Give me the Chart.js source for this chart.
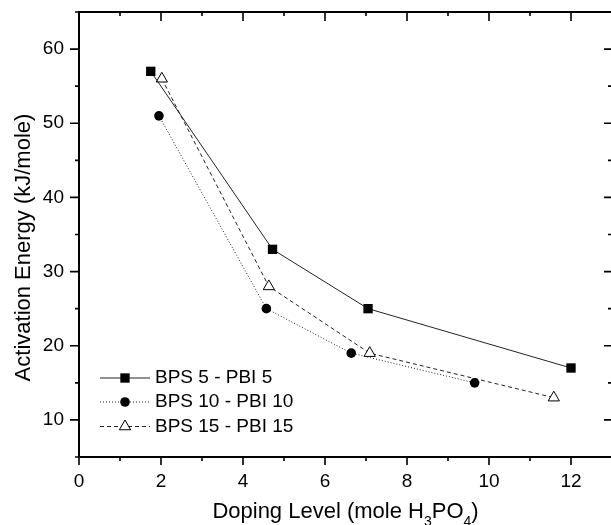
<!DOCTYPE html>
<html>
<head>
<meta charset="utf-8">
<script src="https://cdn.jsdelivr.net/npm/chart.js@4.4.0/dist/chart.umd.min.js"></script>
<style>
html,body{margin:0;padding:0;background:#fff;overflow:hidden;}
#wrap{position:relative;width:620px;height:525px;}
</style>
</head>
<body>
<div id="wrap"><canvas id="c"></canvas></div>
<script>
// ---- data ----
const seriesNames = ['BPS 5 - PBI 5', 'BPS 10 - PBI 10', 'BPS 15 - PBI 15'];
const dopingBPS5  = [1.75, 4.72, 7.05, 12.0];
const energyBPS5  = [57, 33, 25, 17];
const dopingBPS10 = [1.95, 4.57, 6.64, 9.65];
const energyBPS10 = [51, 25, 19, 15];
const dopingBPS15 = [2.02, 4.63, 7.09, 11.58];
const energyBPS15 = [56, 28, 19, 13];
const xTickValues = [0, 2, 4, 6, 8, 10, 12];
const yTickValues = [10, 20, 30, 40, 50, 60];
const xMinorValues = [1, 3, 5, 7, 9, 11, 13];
const yMinorValues = [5, 15, 25, 35, 45, 55, 65];
const xTitleParts = [['Doping Level (mole H', false], ['3', true], ['PO', false], ['4', true], [')', false]];
const yTitleText = 'Activation Energy (kJ/mole)';

const FONT = '"Liberation Sans", Arial, Helvetica, sans-serif';

function pts(xs, ys) { return xs.map((x, i) => ({ x: x, y: ys[i] })); }

// frame, ticks, titles, legend
const decorPlugin = {
  id: 'decor',
  afterDraw(chart) {
    const ctx = chart.ctx, a = chart.chartArea;
    const xs = chart.scales.x, ys = chart.scales.y;
    ctx.save();
    ctx.strokeStyle = '#000';
    ctx.lineWidth = 2;
    ctx.setLineDash([]);
    ctx.beginPath();
    ctx.rect(a.left, a.top, a.right - a.left, a.bottom - a.top);
    ctx.stroke();
    ctx.lineWidth = 1.6;
    ctx.beginPath();
    const tick = (v, major) => {
      const px = xs.getPixelForValue(v);
      const L = major ? 8 : 4, T = major ? 9 : 4;
      ctx.moveTo(px, a.bottom); ctx.lineTo(px, a.bottom + L);
      ctx.moveTo(px, a.top); ctx.lineTo(px, a.top + T);
    };
    xTickValues.forEach(v => tick(v, true));
    xMinorValues.forEach(v => tick(v, false));
    const ytick = (v, major) => {
      const py = ys.getPixelForValue(v);
      const L = major ? 9 : 4, R = major ? 8 : 4;
      ctx.moveTo(a.left, py); ctx.lineTo(a.left - L, py);
      ctx.moveTo(a.right, py); ctx.lineTo(a.right - R, py);
    };
    yTickValues.forEach(v => ytick(v, true));
    yMinorValues.forEach(v => ytick(v, false));
    ctx.stroke();

    // axis titles
    ctx.fillStyle = '#000';
    ctx.font = '22px ' + FONT;
    ctx.textBaseline = 'alphabetic';
    ctx.save();
    ctx.translate(a.left - 49, (a.top + a.bottom) / 2 + 13);
    ctx.rotate(-Math.PI / 2);
    ctx.textAlign = 'center';
    ctx.fillText(yTitleText, 0, 0);
    ctx.restore();

    const mainF = '22px ' + FONT, subF = '14px ' + FONT;
    let total = 0;
    xTitleParts.forEach(p => { ctx.font = p[1] ? subF : mainF; total += ctx.measureText(p[0]).width; });
    let x = (a.left + a.right) / 2 - total / 2;
    const base = a.bottom + 61;
    ctx.textAlign = 'left';
    xTitleParts.forEach(p => {
      ctx.font = p[1] ? subF : mainF;
      ctx.fillText(p[0], x, p[1] ? base + 8 : base);
      x += ctx.measureText(p[0]).width;
    });

    // legend
    const x0 = a.left + 21, x1 = a.left + 71, xm = (x0 + x1) / 2, tx = a.left + 76;
    const rows = [a.bottom - 79, a.bottom - 55, a.bottom - 30.5];
    chart.data.datasets.forEach((ds, i) => {
      const y = rows[i];
      ctx.save();
      ctx.strokeStyle = ds.borderColor;
      ctx.lineWidth = ds.borderWidth;
      ctx.setLineDash(ds.borderDash || []);
      ctx.beginPath(); ctx.moveTo(x0, y); ctx.lineTo(x1, y); ctx.stroke();
      ctx.setLineDash([]);
      ctx.fillStyle = ds.pointBackgroundColor;
      ctx.strokeStyle = ds.pointBorderColor;
      ctx.lineWidth = ds.pointBorderWidth;
      Chart.helpers.drawPoint(ctx, { pointStyle: ds.pointStyle, radius: ds.pointRadius, rotation: 0, borderWidth: ds.pointBorderWidth }, xm, y);
      ctx.fillStyle = '#000';
      ctx.font = '19px ' + FONT;
      ctx.textBaseline = 'middle';
      ctx.textAlign = 'left';
      ctx.fillText(ds.label, tx, y);
      ctx.restore();
    });
    ctx.restore();
  }
};

new Chart(document.getElementById('c'), {
  type: 'scatter',
  data: {
    datasets: [
      { label: seriesNames[0], data: pts(dopingBPS5, energyBPS5), showLine: true,
        borderColor: '#222', borderWidth: 1, borderDash: [],
        pointStyle: 'rect', pointRadius: 6.6, pointHoverRadius: 6.6,
        pointBackgroundColor: '#000', pointBorderColor: '#000', pointBorderWidth: 0 },
      { label: seriesNames[1], data: pts(dopingBPS10, energyBPS10), showLine: true,
        borderColor: '#222', borderWidth: 1, borderDash: [1, 2],
        pointStyle: 'circle', pointRadius: 4.8, pointHoverRadius: 4.8,
        pointBackgroundColor: '#000', pointBorderColor: '#000', pointBorderWidth: 0 },
      { label: seriesNames[2], data: pts(dopingBPS15, energyBPS15), showLine: true,
        borderColor: '#222', borderWidth: 1, borderDash: [4, 3],
        pointStyle: 'triangle', pointRadius: 6.5, pointHoverRadius: 6.5,
        pointBackgroundColor: '#fff', pointBorderColor: '#000', pointBorderWidth: 1 }
    ]
  },
  options: {
    responsive: true,
    maintainAspectRatio: false,
    animation: false,
    devicePixelRatio: 1,
    layout: { padding: { top: 12, right: 8, left: 0, bottom: 0 } },
    plugins: { legend: { display: false }, tooltip: { enabled: false }, title: { display: false } },
    scales: {
      x: {
        type: 'linear', min: 0, max: 13,
        afterBuildTicks: s => { s.ticks = xTickValues.map(v => ({ value: v })); },
        afterFit: s => { s.height = 68; s.paddingLeft = 0; s.paddingRight = 0; },
        grid: { display: false, drawTicks: false },
        border: { display: false },
        ticks: { color: '#000', font: { family: FONT, size: 19 }, padding: 13, maxRotation: 0, autoSkip: false }
      },
      y: {
        type: 'linear', min: 5, max: 65,
        afterBuildTicks: s => { s.ticks = yTickValues.map(v => ({ value: v })); },
        afterFit: s => { s.width = 79; s.paddingTop = 0; s.paddingBottom = 0; },
        grid: { display: false, drawTicks: false },
        border: { display: false },
        ticks: { color: '#000', font: { family: FONT, size: 19 }, padding: 15, autoSkip: false }
      }
    }
  },
  plugins: [decorPlugin]
});
</script>
</body>
</html>
